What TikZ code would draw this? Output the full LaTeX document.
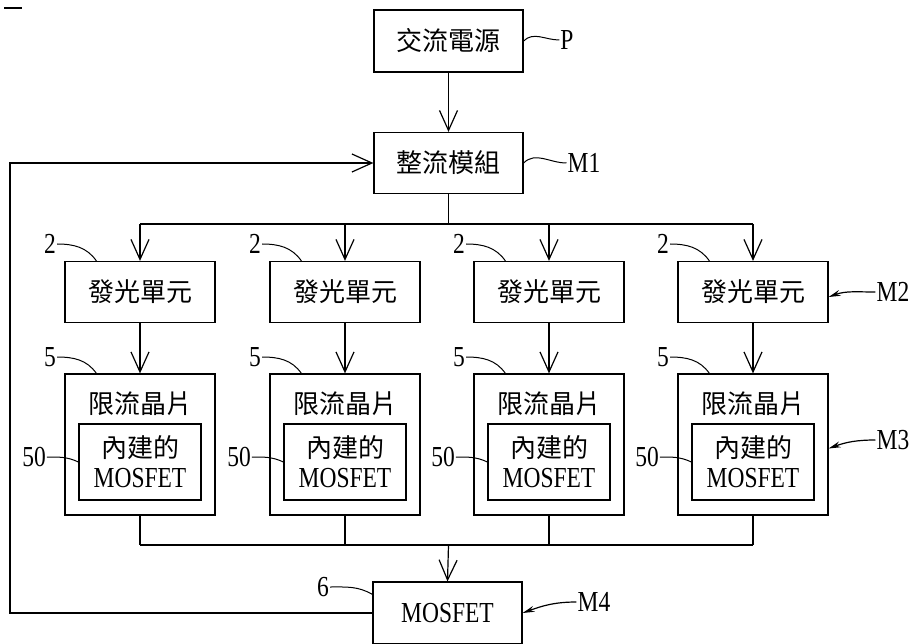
\documentclass[tikz,border=0pt]{standalone}
\usepackage{fontspec}
\setmainfont{Liberation Serif}[FakeStretch=0.81]
\newfontfamily\cjk{Noto Sans CJK TC}
\newcommand\zh[1]{{\fontsize{26}{29}\selectfont\cjk #1}}
\usetikzlibrary{arrows.meta}
\tikzset{
  blk/.style={draw, line width=1.2pt, inner sep=0pt, align=center,
              font=\fontsize{29}{30}\selectfont},
  tag/.style={inner sep=1pt, font=\fontsize{29}{30}\selectfont},
  lead/.style={line width=1pt},
  flow/.style={line width=1.2pt, -{Straight Barb[length=20pt,width=18pt]}},
  point/.style={line width=1.2pt, -{Stealth[length=12pt,width=6pt]}},
}

\begin{document}
\begin{tikzpicture}[x=1pt, y=-1pt]
  \useasboundingbox (0,0) rectangle (918,644);
  \draw[line width=1.2pt] (4,8) -- (22,8);

  % source and rectifier
  \node[blk, minimum width=149pt, minimum height=62pt] (src) at (448.5,41) {\zh{交流電源}};
  \node[blk, minimum width=149pt, minimum height=61pt] (rect) at (448.5,163) {\zh{整流模組}};
  \node[tag] (p) at (567,40) {P};
  \node[tag] (m1) at (584,163) {M1};
  \draw[lead] (src.east) to[out=45, in=180] (p.west);
  \draw[lead] (rect.east) to[out=45, in=180] (m1.west);
  \draw[flow] (src.south) -- (rect.north);

  % buses
  \coordinate (topbus) at (448.5,224);
  \coordinate (botbus) at (448.5,545);
  \coordinate (fb) at (10,0);

  % four columns
  \foreach \i/\x in {1/140, 2/345, 3/549, 4/753}{
    \node[blk, minimum width=150pt, minimum height=61pt] (led\i) at (\x,292) {\zh{發光單元}};
    \node[blk, minimum width=150pt, minimum height=141pt] (chip\i) at (\x,444.5) {};
    \node[tag] (title\i) at (\x,404) {\zh{限流晶片}};
    \node[blk, minimum width=122pt, minimum height=76pt] (inner\i) at (\x,462)
      {\zh{內建的}\\MOSFET};
    \node[tag] (n2\i) at ([xshift=-90pt]\x,244) {2};
    \node[tag] (n5\i) at ([xshift=-90pt]\x,357) {5};
    \node[tag] (n50\i) at ([xshift=-106pt]\x,457) {50};
    \draw[lead] (n2\i.east) to[out=0, in=125] ([xshift=32pt]led\i.north west);
    \draw[lead] (n5\i.east) to[out=0, in=125] ([xshift=32pt]chip\i.north west);
    \draw[lead] (n50\i.east) to[out=0, in=155] (inner\i.west);
    \draw[flow] (led\i.north |- topbus) -- (led\i.north);
    \draw[flow] (led\i.south) -- (chip\i.north);
    \draw[line width=1.2pt] (chip\i.south) -- (chip\i.south |- botbus);
  }
  \draw[line width=1.2pt] (rect.south) -- (topbus);
  \draw[line width=1.2pt] (led1.north |- topbus) -- (led4.north |- topbus);
  \draw[line width=1.2pt] (chip1.south |- botbus) -- (chip4.south |- botbus);

  % side labels
  \node[tag] (m2) at (893,292) {M2};
  \node[tag] (m3) at (893,440) {M3};
  \draw[point] (m2.west) to[out=180, in=20] ([yshift=-5pt]led4.east);
  \draw[point] (m3.west) to[out=180, in=20] ([yshift=-4pt]chip4.east);

  % output MOSFET and feedback
  \node[blk, minimum width=149pt, minimum height=62pt] (mos) at (447.5,613) {MOSFET};
  \node[tag] (n6) at (323,587) {6};
  \node[tag] (m4) at (594,602) {M4};
  \draw[lead] (n6.east) to[out=0, in=150] ([yshift=-13pt]mos.north west);
  \draw[point] (m4.west) to[out=180, in=20] (mos.east);
  \draw[flow] (botbus) -- (mos.north);
  \draw[flow] (mos.west) -- (mos.west -| fb) |- (rect.west);
\end{tikzpicture}
\end{document}
